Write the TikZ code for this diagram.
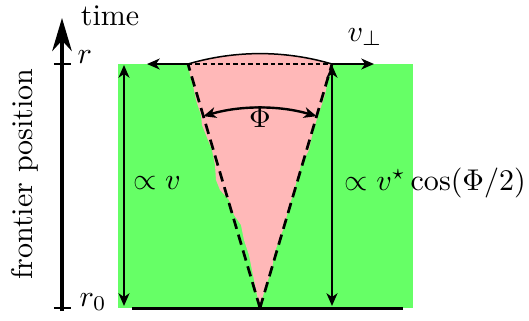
\documentclass[tikz,border=0pt]{standalone}
\usepackage{amsmath,amssymb}
\usetikzlibrary{arrows.meta,calc}

\begin{document}
\begin{tikzpicture}[x=0.3333pt,y=0.3333pt]
\tikzset{
  zone/.style={fill=green!60,draw=none},
  wedgefill/.style={fill=red!28,draw=none},
  wedgeedge/.style={draw=black,line width=0.9pt,dash pattern=on 3.5pt off 2pt},
  measure/.style={draw=black,line width=0.8pt,-{Stealth[length=4.2pt,width=3.6pt,inset=1.2pt]}},
  twoway/.style={draw=black,line width=0.8pt,{Stealth[length=4.2pt,width=3.6pt,inset=1.2pt]}-{Stealth[length=4.2pt,width=3.6pt,inset=1.2pt]}},
  axisline/.style={draw=black,line width=1.2pt,-{Stealth[length=11pt,width=6.5pt,inset=3.5pt]}},
  lbl/.style={inner sep=1pt,font=\normalsize}
}
\useasboundingbox (0,0) rectangle (529,320);
% points
\coordinate (apex) at (260,12);
\coordinate (tl) at (188,256);
\coordinate (tr) at (332,256);
\coordinate (el) at (147,256);
\coordinate (er) at (374,256);
\coordinate (ax0) at (62,9);
\coordinate (ax1) at (62,302);
% zone and wedge
\fill[zone] (118,12) rectangle (413,256);
\fill[wedgefill] (apex) -- (258,20) -- (255,35) -- (252,50) -- (249,65) -- (244,80)
  -- (241,95) -- (234,105) -- (229,120) -- (220,130) -- (216,140) -- (215,155)
  -- (212,170) -- (208,180) -- (202,195) -- (201,205) -- (196,220) -- (193,235)
  -- (190,245) -- (tl) arc[start angle=106.44,end angle=73.56,radius=254.4]
  -- (328,240) -- (325,225) -- (320,210) -- (315,195) -- (311,180) -- (309,170)
  -- (301,155) -- (297,140) -- (293,125) -- (288,110) -- (285,95) -- (279,80)
  -- (274,65) -- (272,50) -- (266,35) -- (262,20) -- cycle;
\draw[wedgeedge] (apex) -- (tl);
\draw[wedgeedge] (apex) -- (tr);
\draw[line width=0.4pt,dash pattern=on 1.5pt off 1pt] (tl) -- (tr);
\draw[line width=0.5pt] (tl) arc[start angle=106.44,end angle=73.56,radius=254.4];
% angle
\draw[twoway] ($(apex)+(106.44:200)$) arc[start angle=106.44,end angle=73.56,radius=200];
\node[lbl] (phi) at (260,203) {$\Phi$};
% spreading
\draw[measure] (tl) -- (el);
\draw[measure] (tr) -- (er);
\node[lbl] (vperp) at (365,283) {$v_\perp$};
% heights
\draw[twoway] (124,255) -- (124,14);
\draw[twoway] (332,255) -- (332,14);
\node[lbl] (vl) at (157,137) {$\propto v$};
\node[lbl,anchor=west] (vr) at (341,137) {$\propto v^\star\cos(\Phi/2)$};
\draw[line width=0.9pt] (132,11.5) -- (403,11.5);
% axis
\draw[axisline] (ax0) -- (ax1);
\draw[line width=0.6pt] (54,256) -- (71,256);
\draw[line width=0.6pt] (54,12) -- (71,12);
\node[lbl,anchor=west] (rtop) at (74,263) {$r$};
\node[lbl,anchor=west] (rbot) at (76,18) {$r_0$};
\node[lbl] (time) at (110,304) {time};
\node[lbl,rotate=90] (front) at (25,146) {frontier position};
\end{tikzpicture}
\end{document}
